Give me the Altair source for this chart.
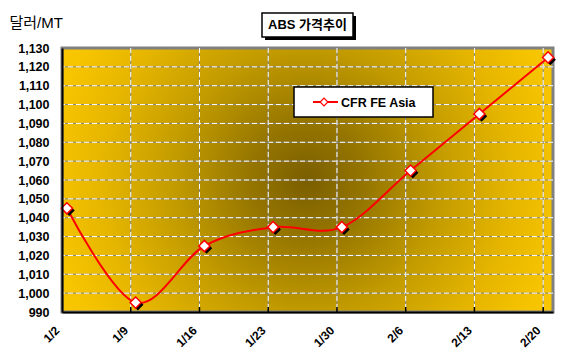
import altair as alt
import pandas as pd

# ---- data ----
dates = ["1/2", "1/9", "1/16", "1/23", "1/30", "2/6", "2/13", "2/20"]
days = [0, 7, 14, 21, 28, 35, 42, 49]
prices = [1045, 995, 1025, 1035, 1035, 1065, 1095, 1125]
series_name = "CFR FE Asia"
chart_title = "ABS 가격추이"
y_title = "달러/MT"
y_ticks = list(range(990, 1131, 10))

W, H = 491, 264
FONT = "Liberation Sans, Arial, Noto Sans CJK KR"

df = pd.DataFrame({"date": dates, "day": days, "price": prices})
grid_y = pd.DataFrame({"v": y_ticks[1:-1]})
grid_x = pd.DataFrame({"v": days[1:]})
one = pd.DataFrame({"a": [0]})

xscale = alt.Scale(domain=[0, 50], nice=False, zero=False)
yscale = alt.Scale(domain=[990, 1130], nice=False, zero=False)

label_expr = "[" + ",".join("'%s'" % d for d in dates) + "][round(datum.value/7)]"

x_axis = alt.Axis(
    values=days, labelExpr=label_expr, title=None, grid=False, ticks=False,
    labelAngle=315, labelAlign="right", labelBaseline="middle", labelPadding=16,
    labelOffset=-5,
    labelFont=FONT, labelFontSize=12, labelFontWeight="bold", labelColor="black",
    domainColor="black", domainWidth=2, zindex=1)
y_axis = alt.Axis(
    values=y_ticks, labelExpr="format(datum.value, ',.0f')", grid=False, ticks=False,
    labelPadding=13,
    labelFont=FONT, labelFontSize=12.5, labelFontWeight="bold", labelColor="black",
    domainColor="black", domainWidth=2, zindex=1,
    title=y_title, titleAngle=0, titleAlign="left", titleBaseline="middle",
    titleX=-53, titleY=-26, titleFont=FONT, titleFontSize=15,
    titleFontWeight="normal", titleColor="black")

bg = alt.Chart(one).mark_rect(
    color={
        "gradient": "radial",
        "x1": 0.5, "y1": 0.5, "r1": 0,
        "x2": 0.5, "y2": 0.5, "r2": 0.6,
        "stops": [
            {"offset": 0.0, "color": "#7a5e00"},
            {"offset": 0.2, "color": "#967600"},
            {"offset": 0.45, "color": "#c29b00"},
            {"offset": 0.7, "color": "#e6b600"},
            {"offset": 0.88, "color": "#f7c500"},
            {"offset": 1.0, "color": "#fcc900"},
        ],
    },
    stroke="#808080",
    strokeWidth=3,
).encode(x=alt.value(0), x2=alt.value(W), y=alt.value(0), y2=alt.value(H))

hgrid_gray = alt.Chart(grid_y).mark_rule(color="#8a8a8a", strokeWidth=1).encode(
    y=alt.Y("v:Q", scale=yscale, axis=y_axis))
hgrid_white = alt.Chart(grid_y).mark_rule(color="white", strokeWidth=1, strokeDash=[5, 3]).encode(
    y=alt.Y("v:Q", scale=yscale, axis=y_axis))
vgrid_gray = alt.Chart(grid_x).mark_rule(color="#8a8a8a", strokeWidth=1).encode(
    x=alt.X("v:Q", scale=xscale, axis=x_axis))
vgrid_white = alt.Chart(grid_x).mark_rule(color="white", strokeWidth=1, strokeDash=[5, 3]).encode(
    x=alt.X("v:Q", scale=xscale, axis=x_axis))
xticks_in = alt.Chart(grid_x).mark_rule(color="black", strokeWidth=1.5).encode(
    x=alt.X("v:Q", scale=xscale, axis=x_axis), y=alt.value(H), y2=alt.value(H - 5))

base = alt.Chart(df).transform_calculate(pos="datum.day + 0.5")
X = alt.X("pos:Q", scale=xscale, axis=x_axis)
Y = alt.Y("price:Q", scale=yscale, axis=y_axis)

line = base.mark_line(color="#ff0000", strokeWidth=2, interpolate="cardinal").encode(x=X, y=Y)

# diamond shadow: same diamond shifted down-right inside the symbol path
shadow_path = "M-0.6,0.4L0.4,-0.6L1.4,0.4L0.4,1.4Z"
shadow = base.mark_point(shape=shadow_path, filled=True, color="black", size=125,
                         opacity=1).encode(x=X, y=Y)
points = base.mark_point(shape="diamond", filled=True, fill="white", stroke="#ff0000",
                         strokeWidth=1.5, size=125, opacity=1).encode(x=X, y=Y)

# legend box
leg_box = alt.Chart(one).mark_rect(fill="white", stroke="black", strokeWidth=1.5).encode(
    x=alt.value(232), x2=alt.value(371), y=alt.value(39), y2=alt.value(69))
leg_line = alt.Chart(one).mark_rule(color="#ff0000", strokeWidth=2).encode(
    x=alt.value(251), x2=alt.value(276), y=alt.value(54))
leg_pt = alt.Chart(one).mark_point(shape="diamond", filled=True, fill="white", stroke="#ff0000",
                                   strokeWidth=1.2, size=60, opacity=1).encode(
    x=alt.value(262), y=alt.value(54))
leg_txt = alt.Chart(one).mark_text(text=series_name, font=FONT, fontSize=12.5, fontWeight="bold",
                                   align="left", baseline="middle", color="black").encode(
    x=alt.value(279), y=alt.value(55))

# title box
t_shadow = alt.Chart(one).mark_rect(fill="black").encode(
    x=alt.value(203), x2=alt.value(294), y=alt.value(-32), y2=alt.value(-8))
t_box = alt.Chart(one).mark_rect(fill="white", stroke="black", strokeWidth=1.5).encode(
    x=alt.value(200), x2=alt.value(291), y=alt.value(-35), y2=alt.value(-11))
t_txt = alt.Chart(one).mark_text(text=chart_title, font=FONT, fontSize=13, fontWeight="bold",
                                 align="center", baseline="middle", color="black").encode(
    x=alt.value(245.5), y=alt.value(-23))

chart = alt.layer(
    bg, hgrid_gray, hgrid_white, vgrid_gray, vgrid_white, xticks_in,
    line, shadow, points, leg_box, leg_line, leg_pt, leg_txt, t_shadow, t_box, t_txt
).properties(
    width=W, height=H,
    padding={"left": 54, "top": 40, "right": 22, "bottom": 40},
    autosize=alt.AutoSizeParams(type="none"),
).configure_view(stroke=None).configure(background="white")

chart.save("out.html", embed_options={"renderer": "svg", "actions": False})
